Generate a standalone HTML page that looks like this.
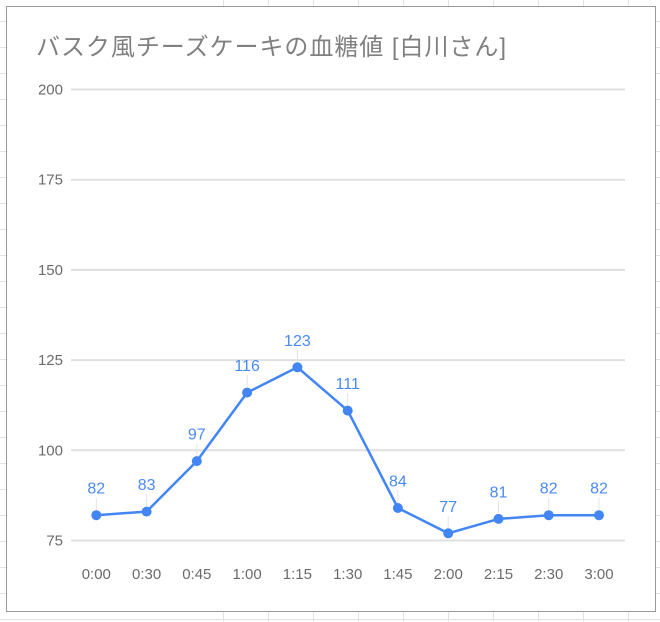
<!DOCTYPE html>
<html><head><meta charset="utf-8"><style>
html,body{margin:0;padding:0;background:#fff;}
body{width:660px;height:622px;overflow:hidden;}
svg{display:block;}
</style></head><body>
<svg width="660" height="622" viewBox="0 0 660 622" xmlns="http://www.w3.org/2000/svg">
<rect x="0" y="0" width="660" height="622" fill="#fff"/>
<g stroke="#e2e2e2" stroke-width="1">
<line x1="0" y1="21.5" x2="660" y2="21.5"/>
<line x1="0" y1="47.5" x2="660" y2="47.5"/>
<line x1="0" y1="73.5" x2="660" y2="73.5"/>
<line x1="0" y1="99.5" x2="660" y2="99.5"/>
<line x1="0" y1="125.5" x2="660" y2="125.5"/>
<line x1="0" y1="151.5" x2="660" y2="151.5"/>
<line x1="0" y1="177.5" x2="660" y2="177.5"/>
<line x1="0" y1="203.5" x2="660" y2="203.5"/>
<line x1="0" y1="229.5" x2="660" y2="229.5"/>
<line x1="0" y1="255.5" x2="660" y2="255.5"/>
<line x1="0" y1="281.5" x2="660" y2="281.5"/>
<line x1="0" y1="307.5" x2="660" y2="307.5"/>
<line x1="0" y1="333.5" x2="660" y2="333.5"/>
<line x1="0" y1="359.5" x2="660" y2="359.5"/>
<line x1="0" y1="385.5" x2="660" y2="385.5"/>
<line x1="0" y1="411.5" x2="660" y2="411.5"/>
<line x1="0" y1="437.5" x2="660" y2="437.5"/>
<line x1="0" y1="463.5" x2="660" y2="463.5"/>
<line x1="0" y1="489.5" x2="660" y2="489.5"/>
<line x1="0" y1="515.5" x2="660" y2="515.5"/>
<line x1="0" y1="541.5" x2="660" y2="541.5"/>
<line x1="0" y1="567.5" x2="660" y2="567.5"/>
<line x1="0" y1="593.5" x2="660" y2="593.5"/>
<line x1="0" y1="619.5" x2="660" y2="619.5"/>
<line x1="223.5" y1="0" x2="223.5" y2="622"/>
<line x1="268.5" y1="0" x2="268.5" y2="622"/>
<line x1="313.5" y1="0" x2="313.5" y2="622"/>
<line x1="358.5" y1="0" x2="358.5" y2="622"/>
<line x1="403.5" y1="0" x2="403.5" y2="622"/>
<line x1="448.5" y1="0" x2="448.5" y2="622"/>
<line x1="493.5" y1="0" x2="493.5" y2="622"/>
<line x1="538.5" y1="0" x2="538.5" y2="622"/>
<line x1="583.5" y1="0" x2="583.5" y2="622"/>
<line x1="628.5" y1="0" x2="628.5" y2="622"/>
</g>
<rect x="6.5" y="6.5" width="649" height="605" fill="#fff" stroke="#999" stroke-width="1"/>

<text x="36" y="55" font-family="'Liberation Sans','Noto Sans CJK JP',sans-serif" font-size="24" fill="#808080" textLength="470" lengthAdjust="spacing">バスク風チーズケーキの血糖値 [白川さん]</text>

<g stroke="#e0e0e0" stroke-width="2">
<line x1="71" y1="89.5" x2="625" y2="89.5"/>
<line x1="71" y1="179.7" x2="625" y2="179.7"/>
<line x1="71" y1="269.9" x2="625" y2="269.9"/>
<line x1="71" y1="360.1" x2="625" y2="360.1"/>
<line x1="71" y1="450.3" x2="625" y2="450.3"/>
<line x1="71" y1="540.5" x2="625" y2="540.5"/>
</g>
<g font-family="'Liberation Sans',sans-serif" font-size="15" fill="#6b6b6b" text-anchor="end">
<text x="63" y="94.5">200</text>
<text x="63" y="184.7">175</text>
<text x="63" y="274.9">150</text>
<text x="63" y="365.1">125</text>
<text x="63" y="455.3">100</text>
<text x="63" y="545.5">75</text>
</g>
<g font-family="'Liberation Sans',sans-serif" font-size="15" fill="#6b6b6b" text-anchor="middle">
<text x="96.3" y="579">0:00</text>
<text x="146.6" y="579">0:30</text>
<text x="196.8" y="579">0:45</text>
<text x="247.1" y="579">1:00</text>
<text x="297.4" y="579">1:15</text>
<text x="347.7" y="579">1:30</text>
<text x="397.9" y="579">1:45</text>
<text x="448.2" y="579">2:00</text>
<text x="498.5" y="579">2:15</text>
<text x="548.7" y="579">2:30</text>
<text x="599" y="579">3:00</text>
</g>

<g stroke="#e3e3e3" stroke-width="1">
<line x1="96.3" y1="498" x2="96.3" y2="510"/>
<line x1="146.6" y1="494" x2="146.6" y2="506"/>
<line x1="196.8" y1="444" x2="196.8" y2="456"/>
<line x1="247.1" y1="375" x2="247.1" y2="387"/>
<line x1="297.4" y1="350" x2="297.4" y2="362"/>
<line x1="347.7" y1="393" x2="347.7" y2="405"/>
<line x1="397.9" y1="490" x2="397.9" y2="503"/>
<line x1="448.2" y1="516" x2="448.2" y2="528"/>
<line x1="498.5" y1="501" x2="498.5" y2="513"/>
<line x1="548.7" y1="498" x2="548.7" y2="510"/>
<line x1="599" y1="498" x2="599" y2="510"/>
</g>

<polyline fill="none" stroke="#4285f4" stroke-width="2.5" stroke-linejoin="round" points="96.3,515.2 146.6,511.6 196.8,461.1 247.1,392.6 297.4,367.3 347.7,410.6 397.9,508 448.2,533.3 498.5,518.9 548.7,515.2 599,515.2"/>
<g fill="#4285f4">
<circle cx="96.3" cy="515.2" r="5"/>
<circle cx="146.6" cy="511.6" r="5"/>
<circle cx="196.8" cy="461.1" r="5"/>
<circle cx="247.1" cy="392.6" r="5"/>
<circle cx="297.4" cy="367.3" r="5"/>
<circle cx="347.7" cy="410.6" r="5"/>
<circle cx="397.9" cy="508" r="5"/>
<circle cx="448.2" cy="533.3" r="5"/>
<circle cx="498.5" cy="518.9" r="5"/>
<circle cx="548.7" cy="515.2" r="5"/>
<circle cx="599" cy="515.2" r="5"/>
</g>
<g font-family="'Liberation Sans',sans-serif" font-size="16" fill="#4a8af4" text-anchor="middle">
<text x="96.3" y="493.7">82</text>
<text x="146.6" y="490.1">83</text>
<text x="196.8" y="439.6">97</text>
<text x="247.1" y="371.1">116</text>
<text x="297.4" y="345.8">123</text>
<text x="347.7" y="389.1">111</text>
<text x="397.9" y="486.5">84</text>
<text x="448.2" y="511.8">77</text>
<text x="498.5" y="497.4">81</text>
<text x="548.7" y="493.7">82</text>
<text x="599" y="493.7">82</text>
</g>
</svg>
</body></html>
